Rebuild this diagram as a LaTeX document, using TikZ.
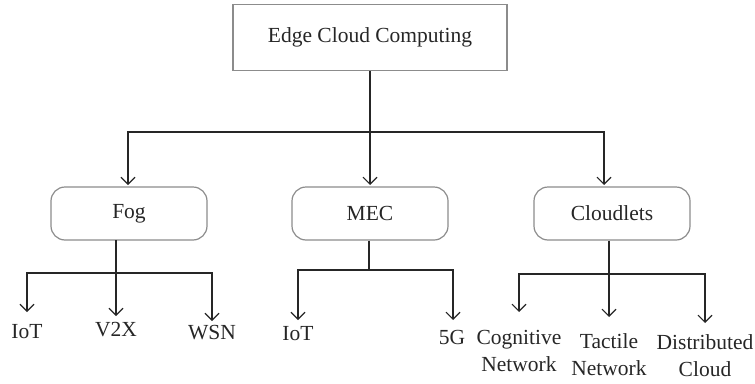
\documentclass[tikz,border=0pt]{standalone}
\usepackage{fontspec}
\setmainfont{Liberation Serif}
\usetikzlibrary{arrows.meta}
\begin{document}
\begin{tikzpicture}[x=1pt,y=-1pt,
  every node/.style={font=\fontsize{21.5}{27}\selectfont, text=black!85},
  topbox/.style={draw=black!45, line width=1.3pt, minimum width=274pt, minimum height=66pt, inner sep=0pt},
  rbox/.style={draw=black!45, line width=1.2pt, rounded corners=14pt, minimum width=156pt, minimum height=53pt, inner sep=0pt},
  lbl/.style={inner sep=0pt, align=center},
  conn/.style={draw=black!85, line width=1.2pt},
  arr/.style={conn, -{Straight Barb[length=7pt,width=14pt,line width=1.1pt]}}
]
\useasboundingbox (0,0) rectangle (755,383);

% top level
\node[topbox] (ecc) at (370,37.5) {Edge Cloud Computing};
\node[rbox] (fog) at (129,213.5) {Fog};
\node[rbox] (mec) at (370,213.5) {MEC};
\node[rbox] (cl) at (612,213.5) {Cloudlets};

\coordinate (j0) at (370,132);
\coordinate (a1) at (128,185);
\coordinate (a2) at (370,185);
\coordinate (a3) at (604,185);
\draw[conn] (ecc.south) -- (j0);
\draw[arr] (j0) -| (a1);
\draw[arr] (j0) -- (a2);
\draw[arr] (j0) -| (a3);

% Fog children
\node[lbl] (iot1) at (27,332) {IoT};
\node[lbl] (v2x) at (116,330) {V2X};
\node[lbl] (wsn) at (212,333) {WSN};
\coordinate (fs) at (116,240);
\coordinate (fj) at (116,273);
\coordinate (f1) at (27,312);
\coordinate (f2) at (116,316);
\coordinate (f3) at (212,321);
\draw[conn] (fs) -- (fj);
\draw[arr] (fj) -| (f1);
\draw[arr] (fj) -- (f2);
\draw[arr] (fj) -| (f3);

% MEC children
\node[lbl] (iot2) at (298,334) {IoT};
\node[lbl] (g5) at (452,337) {5G};
\coordinate (mj) at (369,270);
\coordinate (m1) at (298,320);
\coordinate (m2) at (453,320);
\draw[conn] (mec.south -| mj) -- (mj);
\draw[arr] (mj) -| (m1);
\draw[arr] (mj) -| (m2);

% Cloudlets children
\node[lbl] (cog) at (519,351) {Cognitive\\Network};
\node[lbl] (tac) at (609,355) {Tactile\\Network};
\node[lbl] (dis) at (705,356) {Distributed\\Cloud};
\coordinate (cj) at (609,274);
\coordinate (c1) at (519,312);
\coordinate (c2) at (609,317);
\coordinate (c3) at (705,323);
\draw[conn] (cl.south -| cj) -- (cj);
\draw[arr] (cj) -| (c1);
\draw[arr] (cj) -- (c2);
\draw[arr] (cj) -| (c3);
\end{tikzpicture}
\end{document}
